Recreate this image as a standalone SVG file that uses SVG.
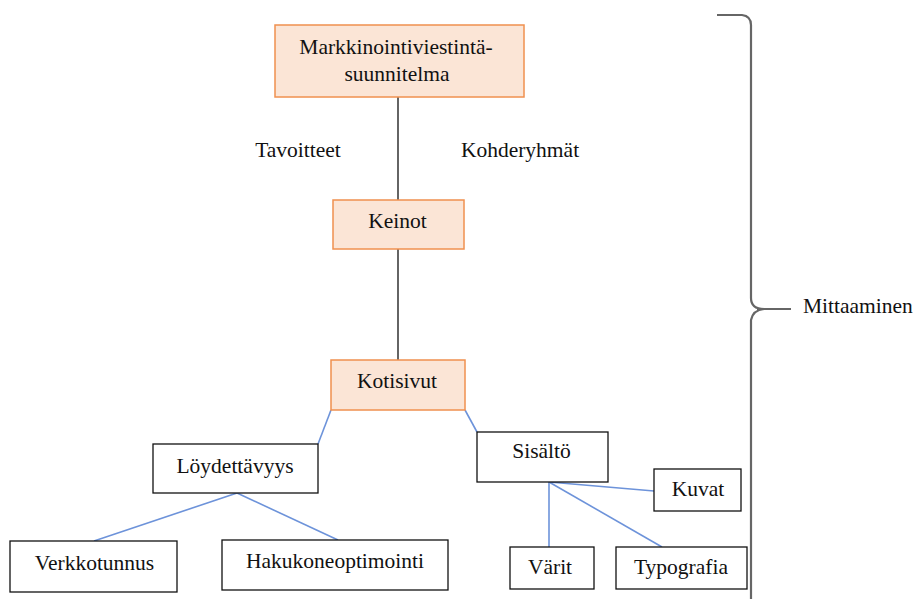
<svg xmlns="http://www.w3.org/2000/svg" width="919" height="599" viewBox="0 0 919 599">
<style>
text{font-family:'Liberation Serif','Times New Roman',serif;font-size:21.5px;fill:#111;text-anchor:middle}
.o{fill:#FBE5D6;stroke:#F0904F;stroke-width:1.5}
.w{fill:#fff;stroke:#111;stroke-width:1.3}
.k{stroke:#111;stroke-width:1.3;fill:none}
.b{stroke:#6D93DA;stroke-width:1.6;fill:none}
.brace{stroke:#666;stroke-width:2.2;fill:none}
</style>
<rect width="919" height="599" fill="#fff"/>
<g id="connectors">
<line class="k" x1="398" y1="97" x2="398" y2="200"/>
<line class="k" x1="398" y1="249" x2="398" y2="360"/>
<line class="b" x1="331" y1="410" x2="318" y2="444"/>
<line class="b" x1="465" y1="410" x2="477" y2="432"/>
<line class="b" x1="237" y1="493" x2="94" y2="541"/>
<line class="b" x1="237" y1="493" x2="338" y2="540"/>
<line class="b" x1="549" y1="482" x2="654" y2="491"/>
<line class="b" x1="549" y1="482" x2="549" y2="547"/>
<line class="b" x1="549" y1="482" x2="662" y2="547"/>
</g>
<g id="n-plan"><rect class="o" x="275" y="25" width="249" height="72"/><text x="396" y="54">Markkinointiviestintä-</text><text x="397" y="81">suunnitelma</text></g>
<g id="l-tavoitteet"><text x="298" y="157">Tavoitteet</text></g>
<g id="l-kohderyhmat"><text x="520" y="157">Kohderyhmät</text></g>
<g id="n-keinot"><rect class="o" x="333" y="200" width="131" height="49"/><text x="397.5" y="228">Keinot</text></g>
<g id="n-kotisivut"><rect class="o" x="331" y="360" width="134" height="50"/><text x="397" y="388">Kotisivut</text></g>
<g id="n-loyd"><rect class="w" x="153" y="444" width="165" height="49"/><text x="235" y="473">Löydettävyys</text></g>
<g id="n-sisalto"><rect class="w" x="477" y="432" width="131" height="50"/><text x="541.5" y="458">Sisältö</text></g>
<g id="n-verkko"><rect class="w" x="10" y="541" width="167" height="51"/><text x="94.5" y="570">Verkkotunnus</text></g>
<g id="n-haku"><rect class="w" x="222" y="540" width="226" height="50"/><text x="335" y="568">Hakukoneoptimointi</text></g>
<g id="n-kuvat"><rect class="w" x="654" y="469" width="87" height="42"/><text x="698" y="496">Kuvat</text></g>
<g id="n-varit"><rect class="w" x="510" y="547" width="84" height="42"/><text x="550" y="574">Värit</text></g>
<g id="n-typo"><rect class="w" x="616" y="547" width="131" height="42"/><text x="681" y="574">Typografia</text></g>
<g id="brace">
<path class="brace" d="M717 15 L742 15 Q751 16 751 25 L751 298 Q751 309 764 309 Q753 310 751 320 L751 602"/>
<path class="brace" d="M757 309 L791 309" stroke-width="2"/>
<text x="803" y="313" style="text-anchor:start">Mittaaminen</text>
</g>
</svg>
